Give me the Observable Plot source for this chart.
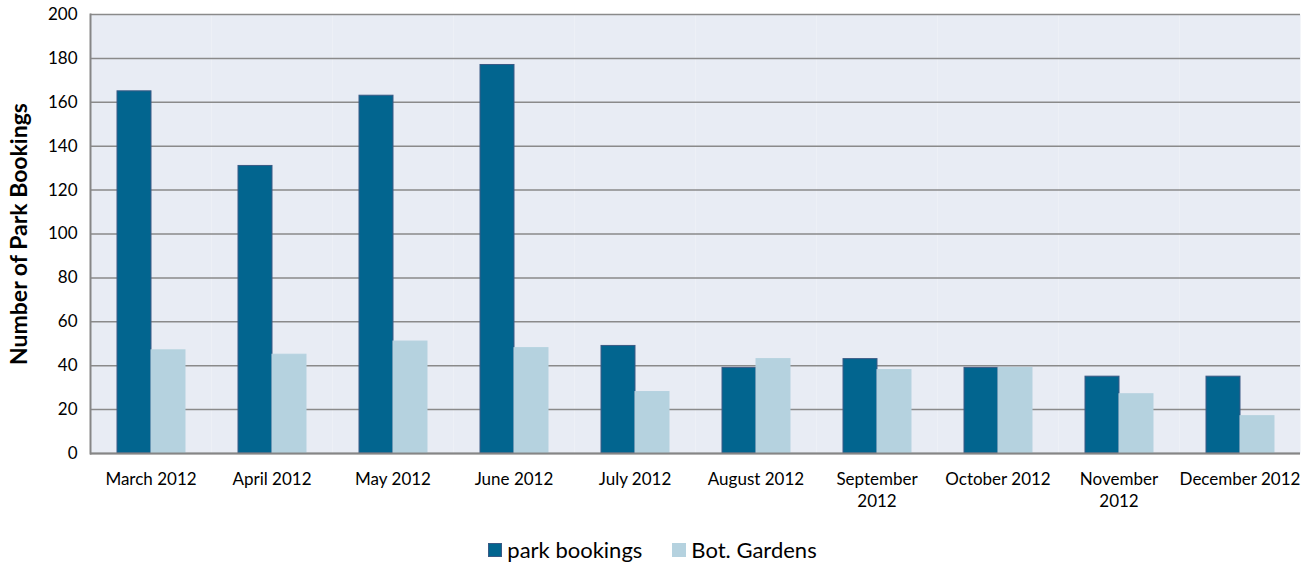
<!DOCTYPE html>
<html>
<head>
<meta charset="utf-8">
<script src="https://cdn.jsdelivr.net/npm/d3@7"></script>
<script src="https://cdn.jsdelivr.net/npm/@observablehq/plot@0.6"></script>
<style>
  body { margin: 0; background: #fff; font-family: Lato, "Open Sans", sans-serif; }
  #chart svg { display: block; }
  .legend { display: flex; justify-content: center; align-items: center; gap: 30px; font-size: 22px; color: #000; margin-top: 26px; padding-right: 8px; }
  .legend span.item { display: flex; align-items: center; }
  .legend span.sw { width: 14px; height: 14px; display: inline-block; margin-right: 5px; box-sizing: border-box; }
</style>
</head>
<body>
<div id="chart"></div>
<script>
const months = ["March 2012","April 2012","May 2012","June 2012","July 2012","August 2012","September 2012","October 2012","November 2012","December 2012"];
const monthLabels = ["March 2012","April 2012","May 2012","June 2012","July 2012","August 2012","September\n2012","October 2012","November\n2012","December 2012"];
const series = ["park bookings","Bot. Gardens"];
const parkBookings = [165,131,163,177,49,39,43,39,35,35];
const botGardens = [47,45,51,48,28,43,38,39,27,17];
const colors = ["#02658f","#b5d2df"];
const yTicks = [0,20,40,60,80,100,120,140,160,180,200];

const data = [];
months.forEach((m,i) => {
  data.push({month: m, series: series[0], value: parkBookings[i]});
  data.push({month: m, series: series[1], value: botGardens[i]});
});
const fmt = (d) => monthLabels[months.indexOf(d)];

const plot = Plot.plot({
  width: 1313,
  height: 510,
  marginLeft: 87,
  marginRight: 11,
  marginTop: 14,
  marginBottom: 57,
  style: {fontFamily: "Lato, 'Open Sans', sans-serif", fontSize: "17px", color: "#000", background: "#fff"},
  fx: {domain: months, padding: 0, label: null, axis: null},
  x: {domain: series, paddingInner: 0, paddingOuter: 0.734, axis: null},
  y: {domain: [0, 200], label: null, axis: null},
  color: {domain: series, range: colors},
  marks: [
    Plot.frame({fill: "#e8ecf4", stroke: null}),
    Plot.gridY(yTicks, {stroke: "#8a8a8a", strokeOpacity: 1, strokeWidth: 1.5}),
    Plot.barY(data, {fx: "month", x: "series", y: "value", fill: "series", stroke: (d) => d.series === series[0] ? "#3a5a85" : "#b5d2df", strokeWidth: 1, inset: 0}),
    Plot.ruleY([0], {stroke: "#868686", strokeWidth: 2}),
    Plot.frame({anchor: "left", facet: "super", stroke: "#868686", strokeWidth: 2}),
    Plot.axisY(yTicks, {tickSize: 0, tickPadding: 13, label: null, fontSize: 17}),
    Plot.axisY([], {label: "Number of Park Bookings", labelAnchor: "center", labelArrow: "none", labelOffset: 80, fontSize: 23, fontWeight: "bold"}),
    Plot.axisFx({anchor: "bottom", tickSize: 0, tickPadding: 16, label: null, fontSize: 17, lineHeight: 1.3, tickFormat: fmt})
  ]
});
document.getElementById("chart").appendChild(plot);

const legend = document.createElement("div");
legend.className = "legend";
series.forEach((s,i) => {
  const it = document.createElement("span");
  it.className = "item";
  const sw = document.createElement("span");
  sw.className = "sw";
  sw.style.background = colors[i];
  if (i === 0) sw.style.border = "1px solid #3a5a85";
  it.appendChild(sw);
  it.appendChild(document.createTextNode(s));
  legend.appendChild(it);
});
document.getElementById("chart").appendChild(legend);
</script>
</body>
</html>
